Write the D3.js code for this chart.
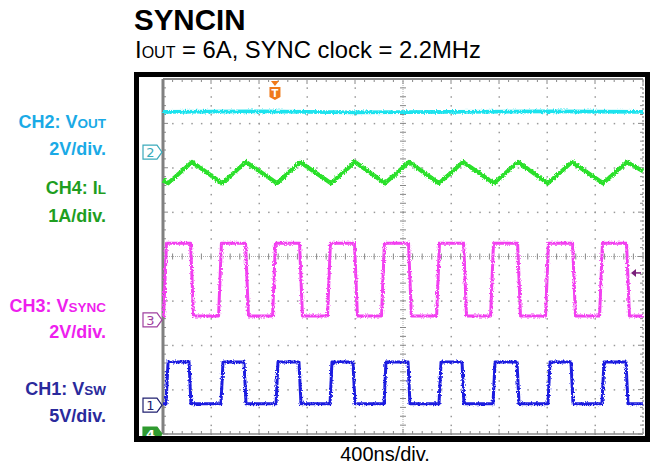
<!DOCTYPE html>
<html><head><meta charset="utf-8">
<script src="https://cdn.jsdelivr.net/npm/d3@7"></script>
<style>html,body{margin:0;padding:0;background:#fff;} svg{display:block;}</style>
</head><body>
<svg id="c" width="650" height="470"></svg>
<script>
// ---- data (time in ns, level in screen divisions from bottom) ----
const timeTicks = [0,400,800,1200,1600,2000,2400,2800,3200,3600,4000];
const divTicks = [0,1,2,3,4,5,6,7,8];
const titleText = "SYNCIN";
const subtitleParts = ["I","OUT"," = 6A, SYNC clock = 2.2MHz"];
const xAxisLabel = "400ns/div.";
const channelLabels = [
  {name:"CH2: V", sub:"OUT", scale:"2V/div.", color:"#1aaae6"},
  {name:"CH4: I", sub:"L",   scale:"1A/div.", color:"#1f9e1f"},
  {name:"CH3: V", sub:"SYNC",scale:"2V/div.", color:"#ee1fee"},
  {name:"CH1: V", sub:"SW",  scale:"5V/div.", color:"#2a2a9c"}
];
const vout = [[0,7.26],[800,7.27],[1600,7.25],[2400,7.26],[3200,7.27],[4000,7.26]];
const inductor = [[0,5.72],[42,5.65],[242,6.13],[492,5.65],[692,6.13],[950,5.65],[1142,6.13],
  [1400,5.65],[1600,6.13],[1850,5.65],[2050,6.13],[2300,5.65],[2500,6.13],[2758,5.65],[2958,6.13],
  [3208,5.65],[3408,6.13],[3667,5.65],[3867,6.13],[4000,5.92]];
const vsync = [[0,2.66],[5,2.66],[29,4.30],[230,4.30],[254,2.66],[463,2.66],[487,4.30],[688,4.30],
  [712,2.66],[913,2.66],[937,4.30],[1138,4.30],[1162,2.66],[1371,2.66],[1395,4.30],[1596,4.30],
  [1620,2.66],[1821,2.66],[1845,4.30],[2046,4.30],[2070,2.66],[2280,2.66],[2304,4.30],[2505,4.30],
  [2529,2.66],[2730,2.66],[2754,4.30],[2955,4.30],[2979,2.66],[3188,2.66],[3212,4.30],[3413,4.30],
  [3437,2.66],[3638,2.66],[3662,4.30],[3863,4.30],[3887,2.66],[4000,2.66]];
const vsw = [[0,0.68],[25,0.68],[42,1.62],[217,1.62],[233,0.68],[483,0.68],[500,1.62],[675,1.62],
  [692,0.68],[942,0.68],[958,1.62],[1133,1.62],[1150,0.68],[1392,0.68],[1408,1.62],[1583,1.62],
  [1600,0.68],[1842,0.68],[1858,1.62],[2042,1.62],[2058,0.68],[2300,0.68],[2317,1.62],[2492,1.62],
  [2508,0.68],[2750,0.68],[2767,1.62],[2950,1.62],[2967,0.68],[3208,0.68],[3225,1.62],[3400,1.62],
  [3417,0.68],[3658,0.68],[3675,1.62],[3858,1.62],[3875,0.68],[4000,0.68]];
const groundMarkers = [{ch:"2",level:6.35,color:"#3aaabb",fill:"#fff"},
                       {ch:"3",level:2.57,color:"#a040a0",fill:"#fff"},
                       {ch:"1",level:0.65,color:"#202070",fill:"#fff"},
                       {ch:"4",level:0.0,color:"#2f9a2f",fill:"#2f9a2f"}];
const triggerTime = 933;
const triggerLevel = 3.63;

// ---- drawing ----
const svg = d3.select("#c");
const x = d3.scaleLinear().domain([0,4000]).range([163,643]);
const y = d3.scaleLinear().domain([0,8]).range([434,79]);
const sans = "Liberation Sans, Arial, sans-serif";

// titles
svg.append("text").attr("x",134).attr("y",30).attr("font-family",sans)
  .attr("font-weight","bold").attr("font-size",29.5).attr("fill","#000").text(titleText);
const st = svg.append("text").attr("x",135).attr("y",58).attr("font-family",sans)
  .attr("font-size",23.8).attr("fill","#000");
st.append("tspan").text(subtitleParts[0]);
st.append("tspan").attr("font-size",16).text(subtitleParts[1]);
st.append("tspan").text(subtitleParts[2]);

// left labels
const labelY = [[128,155],[194,222],[312,338],[395,422]];
channelLabels.forEach((c,i)=>{
  const t = svg.append("text").attr("x",106).attr("y",labelY[i][0]).attr("text-anchor","end")
    .attr("font-family",sans).attr("font-weight","bold")
    .attr("font-size",18).attr("fill",c.color);
  t.append("tspan").text(c.name);
  t.append("tspan").attr("font-size",13.5).text(c.sub);
  svg.append("text").attr("x",106).attr("y",labelY[i][1]).attr("text-anchor","end")
    .attr("font-family",sans).attr("font-weight","bold")
    .attr("font-size",18).attr("fill",c.color).text(c.scale);
});

// scope screen
svg.append("rect").attr("x",139).attr("y",77).attr("width",506).attr("height",359).attr("fill","#fff");

const g = svg.append("g");
const minorX = d3.range(0,4000.1,80);
const minorY = d3.range(0,8.001,0.2);
const gridCol = "#9a9a9a";
timeTicks.slice(1,-1).forEach(t=>{
  if (t===2000) return;
  minorY.forEach(v=>{
    g.append("rect").attr("x",x(t)-0.5).attr("y",y(v)-0.5).attr("width",1.5).attr("height",1.5).attr("fill",gridCol);
  });
});
divTicks.slice(1,-1).forEach(v=>{
  if (v===4) return;
  minorX.forEach(t=>{
    g.append("rect").attr("x",x(t)-0.5).attr("y",y(v)-0.5).attr("width",1.5).attr("height",1.5).attr("fill",gridCol);
  });
});
g.append("line").attr("x1",x(0)).attr("x2",x(4000)).attr("y1",y(4)).attr("y2",y(4))
  .attr("stroke","#b0b0b0").attr("stroke-width",1).attr("stroke-dasharray","1,1");
g.append("line").attr("x1",x(2000)).attr("x2",x(2000)).attr("y1",y(0)).attr("y2",y(8))
  .attr("stroke","#b0b0b0").attr("stroke-width",1).attr("stroke-dasharray","1,1");
minorX.forEach(t=>{
  g.append("line").attr("x1",x(t)).attr("x2",x(t)).attr("y1",y(4)-3).attr("y2",y(4)+3).attr("stroke","#888");
});
minorY.forEach(v=>{
  g.append("line").attr("x1",x(2000)-3).attr("x2",x(2000)+3).attr("y1",y(v)).attr("y2",y(v)).attr("stroke","#888");
});
minorX.forEach(t=>{
  const L = (Math.abs(t%400)<1e-6)?5:3;
  g.append("line").attr("x1",x(t)).attr("x2",x(t)).attr("y1",y(8)).attr("y2",y(8)+L).attr("stroke","#888");
  g.append("line").attr("x1",x(t)).attr("x2",x(t)).attr("y1",y(0)).attr("y2",y(0)-L).attr("stroke","#888");
});
minorY.forEach(v=>{
  const L = (Math.abs(v-Math.round(v))<1e-6)?5:3;
  g.append("line").attr("x1",x(0)).attr("x2",x(0)+L).attr("y1",y(v)).attr("y2",y(v)).attr("stroke","#888");
  g.append("line").attr("x1",x(4000)).attr("x2",x(4000)-L).attr("y1",y(v)).attr("y2",y(v)).attr("stroke","#888");
});
g.append("line").attr("x1",x(0)).attr("x2",x(4000)).attr("y1",y(8)).attr("y2",y(8)).attr("stroke","#8a8a8a").attr("stroke-width",2);
g.append("line").attr("x1",x(0)).attr("x2",x(4000)).attr("y1",y(0)).attr("y2",y(0)).attr("stroke","#8a8a8a").attr("stroke-width",1.5);
g.append("line").attr("x1",x(0)).attr("x2",x(0)).attr("y1",y(0)).attr("y2",y(8)).attr("stroke","#808080").attr("stroke-width",3);
g.append("line").attr("x1",x(4000)).attr("x2",x(4000)).attr("y1",y(0)).attr("y2",y(8)).attr("stroke","#a0a0a0").attr("stroke-width",1.5).attr("stroke-dasharray","2,2");

// noise filter (visual texture only)
const defs = svg.append("defs");
const f = defs.append("filter").attr("id","noise").attr("x","-5%").attr("y","-20%").attr("width","110%").attr("height","140%");
f.append("feTurbulence").attr("type","fractalNoise").attr("baseFrequency","0.9 0.6").attr("numOctaves",1).attr("seed",3).attr("result","n");
f.append("feDisplacementMap").attr("in","SourceGraphic").attr("in2","n").attr("scale",4).attr("xChannelSelector","R").attr("yChannelSelector","G");

const line = d3.line().x(d=>x(d[0])).y(d=>y(d[1]));
const traces = svg.append("g").attr("filter","url(#noise)");
[[vout,"#1fe3ee",3.8],[inductor,"#2be02b",4.2],[vsync,"#f23ff0",3],[vsw,"#1c1ce0",3]].forEach(([d,c,w])=>{
  traces.append("path").datum(d).attr("d",line).attr("fill","none").attr("stroke",c)
    .attr("stroke-width",w).attr("stroke-linejoin","round");
});

// ground markers
groundMarkers.forEach(m=>{
  const yy = y(m.level);
  const x0=143, x1=157, tip=162;
  svg.append("path").attr("d",`M${x0},${yy-7}L${x1},${yy-7}L${tip},${yy}L${x1},${yy+7}L${x0},${yy+7}Z`)
    .attr("fill",m.fill).attr("stroke",m.color).attr("stroke-width",1.2);
  svg.append("text").attr("x",(x0+x1)/2+0.5).attr("y",yy+5).attr("text-anchor","middle")
    .attr("font-family","DejaVu Sans, sans-serif").attr("font-size",13)
    .attr("fill",m.fill==="#fff"?m.color:"#fff").attr("font-weight",m.fill==="#fff"?"normal":"bold").text(m.ch);
});

// trigger marker
const tx = x(triggerTime);
svg.append("path").attr("d",`M${tx-4},${81}L${tx+4},${81}L${tx},${86}Z`).attr("fill","#f07a1a");
svg.append("path").attr("d",`M${tx-5.5},${87}L${tx+5.5},${87}L${tx+5.5},${97}L${tx},${100}L${tx-5.5},${97}Z`).attr("fill","#f07a1a");
svg.append("text").attr("x",tx).attr("y",97).attr("text-anchor","middle").attr("font-family","DejaVu Sans, sans-serif")
  .attr("font-weight","bold").attr("font-size",10).attr("fill","#fff").text("T");
const ty = y(triggerLevel);
svg.append("line").attr("x1",635).attr("x2",641).attr("y1",ty).attr("y2",ty).attr("stroke","#7a1f7a").attr("stroke-width",1.5);
svg.append("path").attr("d",`M${631},${ty}L${636},${ty-4}L${636},${ty+4}Z`).attr("fill","#7a1f7a");

// black frame
[[134,72,516,5],[134,436,516,6],[134,72,5,370],[645,72,5,370]].forEach(r=>{
  svg.append("rect").attr("x",r[0]).attr("y",r[1]).attr("width",r[2]).attr("height",r[3]).attr("fill","#000");
});

svg.append("text").attr("x",385).attr("y",461).attr("text-anchor","middle").attr("font-family",sans)
  .attr("font-size",20).attr("fill","#000").text(xAxisLabel);
</script>
</body></html>
